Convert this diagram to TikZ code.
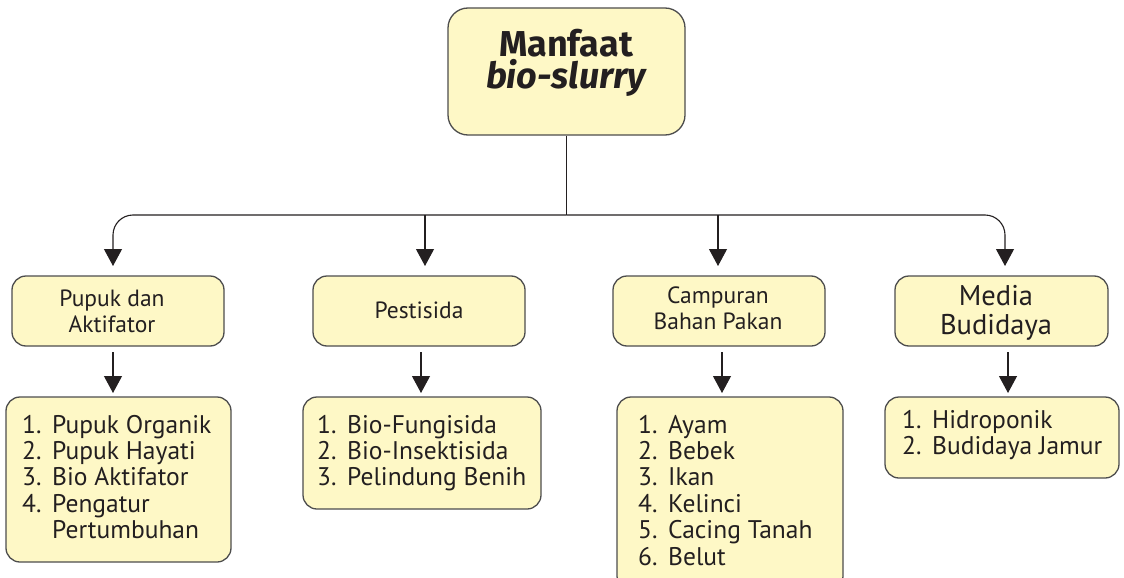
\documentclass[tikz,border=0pt]{standalone}
\usepackage{fontspec}
\setmainfont{PT Sans}
\newfontfamily\ttlfont{Fira Sans}
\usetikzlibrary{arrows.meta}
\definecolor{boxfill}{HTML}{FEF8C6}
\definecolor{boxline}{HTML}{4D4D4D}
\definecolor{ink}{HTML}{231F20}
\tikzset{
  box/.style={draw=boxline, line width=1.3pt, fill=boxfill, rounded corners=14pt, inner sep=0pt},
  link/.style={draw=ink, line width=1.1pt},
  conn/.style={link, -{Triangle[width=18pt,length=17pt]}},
  lvla/.style={font=\fontsize{23.5}{26}\selectfont, anchor=base, text=ink, inner sep=0pt},
  lvlb/.style={font=\fontsize{28.5}{30}\selectfont, anchor=base, text=ink, inner sep=0pt},
  item/.style={font=\fontsize{25.5}{26.6}\selectfont, anchor=base west, text=ink, inner sep=0pt},
  ttl/.style={font=\ttlfont\fontsize{36}{32}\selectfont\bfseries, anchor=base, text=ink, inner sep=0pt},
}
\begin{document}
\begin{tikzpicture}[x=1pt,y=-1pt]
\useasboundingbox (0,0) rectangle (1124,578);
\clip (0,0) rectangle (1124,578);

% boxes
\node[box, rounded corners=20pt, minimum width=237pt, minimum height=127pt] (top) at (566.5,71.5) {};
\node[box, minimum width=212pt, minimum height=70pt] (p1) at (118,311) {};
\node[box, minimum width=212pt, minimum height=70pt] (p2) at (419,311) {};
\node[box, minimum width=212pt, minimum height=70pt] (p3) at (719,311) {};
\node[box, minimum width=213pt, minimum height=70pt] (p4) at (1001.5,311) {};
\node[box, minimum width=225pt, minimum height=165pt] (q1) at (118.5,479.5) {};
\node[box, minimum width=238pt, minimum height=112pt] (q2) at (422,453) {};
\node[box, minimum width=226pt, minimum height=193pt] (q3) at (730,493.5) {};
\node[box, minimum width=234pt, minimum height=81pt] (q4) at (1002,437.5) {};

% title
\node[ttl] (ttext) at (566,57) {\vtop{\halign{\hfil#\hfil\cr Manfaat\cr\itshape bio-slurry\cr}}};

% level 1 texts
\node[lvla] (p1a) at (112,306) {Pupuk dan};
\node[lvla] (p1b) at (112,332) {Aktifator};
\node[lvla] (p2a) at (419,318.5) {Pestisida};
\node[lvla] (p3a) at (718,303) {Campuran};
\node[lvla] (p3b) at (718,329) {Bahan Pakan};
\node[lvlb] (p4a) at (996,305) {Media};
\node[lvlb] (p4b) at (996,334) {Budidaya};

% level 2 texts
\foreach \t [count=\i] in {Pupuk Organik, Pupuk Hayati, Bio Aktifator, Pengatur}
  \node[item] (q1-\i) at (22,{433+(\i-1)*26.4}) {\makebox[30pt][l]{\i.}\t};
\node[item] (q1-5) at (52,{433+4*26.4}) {Pertumbuhan};
\foreach \t [count=\i] in {Bio-Fungisida, Bio-Insektisida, Pelindung Benih}
  \node[item] (q2-\i) at (317,{433+(\i-1)*26.4}) {\makebox[30pt][l]{\i.}\t};
\foreach \t [count=\i] in {Ayam, Bebek, Ikan, Kelinci, Cacing Tanah, Belut}
  \node[item] (q3-\i) at (638,{433+(\i-1)*26.4}) {\makebox[30pt][l]{\i.}\t};
\foreach \t [count=\i] in {Hidroponik, Budidaya Jamur}
  \node[item] (q4-\i) at (902,{428+(\i-1)*26.4}) {\makebox[30pt][l]{\i.}\t};

% connectors
\coordinate (j) at (566.5,215);
\coordinate (s2) at (425,215);
\coordinate (s3) at (718,215);
\coordinate (t1) at (113,266);
\coordinate (t2) at (425,266);
\coordinate (t3) at (718,266);
\coordinate (t4) at (1005,266);
\draw[link] (top.south) -- (j);
\draw[conn, rounded corners=20pt] (j) -| (t1);
\draw[conn, rounded corners=20pt] (j) -| (t4);
\draw[conn] (s2) -- (t2);
\draw[conn] (s3) -- (t3);

\coordinate (u1) at (113,352);
\coordinate (u2) at (421,352);
\coordinate (u3) at (722,352);
\coordinate (u4) at (1008,352);
\coordinate (v1) at (113,393);
\coordinate (v2) at (421,393);
\coordinate (v3) at (722,393);
\coordinate (v4) at (1008,393);
\draw[conn] (u1) -- (v1);
\draw[conn] (u2) -- (v2);
\draw[conn] (u3) -- (v3);
\draw[conn] (u4) -- (v4);
\end{tikzpicture}
\end{document}
